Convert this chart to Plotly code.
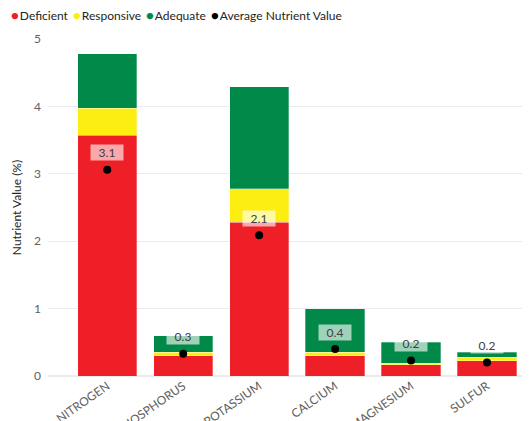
import plotly.graph_objects as go

categories = ["NITROGEN", "PHOSPHORUS", "POTASSIUM", "CALCIUM", "MAGNESIUM", "SULFUR"]
deficient = [3.57, 0.30, 2.28, 0.30, 0.17, 0.23]
responsive = [0.40, 0.05, 0.50, 0.05, 0.02, 0.05]
adequate = [0.81, 0.25, 1.51, 0.65, 0.31, 0.07]
average = [3.06, 0.33, 2.09, 0.40, 0.23, 0.20]
series_names = ["Deficient", "Responsive", "Adequate", "Average Nutrient Value"]
colors = ["#EE1F27", "#FCEE10", "#008948", "#000000"]
y_ticks = [0, 1, 2, 3, 4, 5]

FONT = "Lato, 'Open Sans', sans-serif"
OFF = 8  # page body margin

fig = go.Figure()
for name, vals, col in zip(series_names[:3], [deficient, responsive, adequate], colors[:3]):
    fig.add_trace(go.Bar(x=categories, y=vals, name=name,
                         marker=dict(color=col, line=dict(width=0.6, color="rgba(255,255,255,0.5)")),
                         showlegend=False))
fig.add_trace(go.Scatter(x=categories, y=average, mode="markers", name=series_names[3],
                         marker=dict(color="black", size=8), showlegend=False))

for c, v in zip(categories, average):
    fig.add_annotation(x=c, y=v, text=f"{v:.1f}", showarrow=False, yshift=17,
                       bgcolor="rgba(255,255,255,0.62)", borderpad=0, width=32, height=15,
                       font=dict(family=FONT, size=12, color="#404040"))

# legend (compact, circle markers)
plot_left, plot_w = 48 - OFF, 477
leg_x = [9, 71, 144, 209]
for px, name, col in zip(leg_x, series_names, colors):
    fig.add_annotation(xref="paper", yref="paper", x=(px - OFF - plot_left) / plot_w, y=1.071,
                       xanchor="left", yanchor="middle", showarrow=False,
                       text=f'<span style="color:{col};font-size:13px">●</span><span style="font-size:4px"> </span>{name}',
                       font=dict(family=FONT, size=12, color="#252423"))

fig.update_layout(
    barmode="stack", bargap=0.22,
    width=530 - OFF, height=421 - OFF,
    margin=dict(l=48 - OFF, r=5, t=39 - OFF, b=45, autoexpand=False),
    plot_bgcolor="white", paper_bgcolor="white",
    font=dict(family=FONT, size=12, color="#605E5C"),
    showlegend=False,
)
fig.update_xaxes(range=[-0.78, 5.5], tickangle=-35, showgrid=False, showline=False,
                 tickfont=dict(family=FONT, size=12, color="#605E5C"), automargin=False)
fig.update_yaxes(range=[0, 5], tickvals=y_ticks, showgrid=True, gridcolor="#EBEBEB",
                 zeroline=True, zerolinecolor="#EBEBEB", ticklabelstandoff=6,
                 title=dict(text="Nutrient Value (%)", standoff=9, font=dict(family=FONT, size=12, color="#252423")),
                 tickfont=dict(family=FONT, size=12, color="#605E5C"), automargin=False)

fig.write_html("out.html")
